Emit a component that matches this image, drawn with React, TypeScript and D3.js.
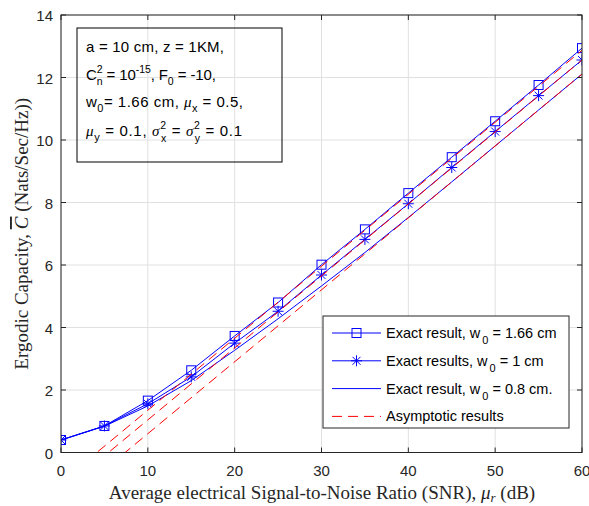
import * as d3 from 'd3';

// SNR grid (dB) and ergodic capacity (nats/s/Hz)
const snr = [0, 5, 10, 15, 20, 25, 30, 35, 40, 45, 50, 55, 60];
const capW166 = [0.40, 0.85, 1.66, 2.63, 3.73, 4.80, 6.01, 7.14, 8.30, 9.45, 10.60, 11.76, 12.94];
const capW1 = [0.40, 0.85, 1.56, 2.42, 3.50, 4.52, 5.68, 6.82, 7.96, 9.12, 10.27, 11.42, 12.56];
const capW08 = [0.40, 0.84, 1.49, 2.30, 3.27, 4.28, 5.33, 6.40, 7.52, 8.66, 9.81, 10.96, 12.11];

// asymptotic straight lines, end points at 0 dB and 60 dB
const asymSnr = [0, 60];
const asymW166 = [-0.95, 12.87];
const asymW1 = [-1.26, 12.56];
const asymW08 = [-1.70, 12.11];

const xTicks = [0, 10, 20, 30, 40, 50, 60];
const yTicks = [0, 2, 4, 6, 8, 10, 12, 14];

const width = 589;
const height = 506;
const margin = { top: 15, right: 7, bottom: 53.5, left: 61 };

const x = d3.scaleLinear().domain([0, 60]).range([margin.left, width - margin.right]);
const y = d3.scaleLinear().domain([0, 14]).range([height - margin.bottom, margin.top]);

const blue = '#0000ff';
const red = '#ff0000';
const axisColor = '#262626';
const sans = '"Liberation Sans", Arial, sans-serif';
const serif = '"Liberation Serif", "Times New Roman", serif';

const toPts = (xs: number[], ys: number[]) => xs.map((v, i) => [v, ys[i]] as [number, number]);

const line = d3.line<[number, number]>()
  .x(d => x(d[0]))
  .y(d => y(d[1]));

function Square({ cx, cy }: { cx: number; cy: number }) {
  const s = 9;
  return <rect x={cx - s / 2} y={cy - s / 2} width={s} height={s} fill="none" stroke={blue} strokeWidth={1} />;
}

function Star({ cx, cy }: { cx: number; cy: number }) {
  const r = 5.5;
  const d = r * 0.72;
  return (
    <g stroke={blue} strokeWidth={1}>
      <line x1={cx - r} y1={cy} x2={cx + r} y2={cy} />
      <line x1={cx} y1={cy - r} x2={cx} y2={cy + r} />
      <line x1={cx - d} y1={cy - d} x2={cx + d} y2={cy + d} />
      <line x1={cx - d} y1={cy + d} x2={cx + d} y2={cy - d} />
    </g>
  );
}

const legendItems = [
  { pre: 'Exact result, w', post: ' = 1.66 cm', color: blue, dash: undefined, marker: 'square' },
  { pre: 'Exact results, w', post: ' = 1 cm', color: blue, dash: undefined, marker: 'star' },
  { pre: 'Exact result, w', post: ' = 0.8 cm.', color: blue, dash: undefined, marker: 'none' },
  { pre: 'Asymptotic results', post: '', color: red, dash: '10 6', marker: 'none' },
];

export default function App() {
  const x0 = x.range()[0];
  const x1 = x.range()[1];
  const y0 = y.range()[0];
  const y1 = y.range()[1];
  const tick = 5;

  const exact = [capW166, capW1, capW08].map(v => toPts(snr, v));
  const asym = [asymW166, asymW1, asymW08].map(v => toPts(asymSnr, v));

  const lgX = 323;
  const lgY = 316;
  const lgW = 246;
  const lgH = 112;

  return (
    <svg width={width} height={height} style={{ position: 'absolute', left: 0, top: 0, background: '#fff' }}>
      <defs>
        <clipPath id="plotArea">
          <rect x={x0} y={y1} width={x1 - x0} height={y0 - y1} />
        </clipPath>
      </defs>
      <rect x={0} y={0} width={width} height={height} fill="#fff" />

      {/* grid */}
      <g stroke="#e0e0e0" strokeWidth={1}>
        {xTicks.map(t => <line key={'gx' + t} x1={x(t)} x2={x(t)} y1={y0} y2={y1} />)}
        {yTicks.map(t => <line key={'gy' + t} x1={x0} x2={x1} y1={y(t)} y2={y(t)} />)}
      </g>

      {/* curves */}
      <g clipPath="url(#plotArea)">
        {exact.map((pts, i) => (
          <path key={'e' + i} d={line(pts) ?? ''} fill="none" stroke={blue} strokeWidth={1} />
        ))}
        {exact[0].map((p, i) => <Square key={'sq' + i} cx={x(p[0])} cy={y(p[1])} />)}
        {exact[1].map((p, i) => <Star key={'st' + i} cx={x(p[0])} cy={y(p[1])} />)}
        {asym.map((pts, i) => (
          <path key={'a' + i} d={line(pts) ?? ''} fill="none" stroke={red} strokeWidth={1} strokeDasharray="10 6" />
        ))}
      </g>

      {/* axes box and ticks */}
      <rect x={x0} y={y1} width={x1 - x0} height={y0 - y1} fill="none" stroke={axisColor} strokeWidth={1} />
      <g stroke={axisColor} strokeWidth={1}>
        {xTicks.map(t => (
          <g key={'tx' + t}>
            <line x1={x(t)} x2={x(t)} y1={y0} y2={y0 - tick} />
            <line x1={x(t)} x2={x(t)} y1={y1} y2={y1 + tick} />
          </g>
        ))}
        {yTicks.map(t => (
          <g key={'ty' + t}>
            <line x1={x0} x2={x0 + tick} y1={y(t)} y2={y(t)} />
            <line x1={x1} x2={x1 - tick} y1={y(t)} y2={y(t)} />
          </g>
        ))}
      </g>
      <g fontFamily={sans} fontSize={15} fill={axisColor}>
        {xTicks.map(t => (
          <text key={'lx' + t} x={x(t)} y={y0 + 23} textAnchor="middle">{t}</text>
        ))}
        {yTicks.map(t => (
          <text key={'ly' + t} x={x0 - 8} y={y(t) + 6} textAnchor="end">{t}</text>
        ))}
      </g>

      {/* axis titles */}
      <text x={322} y={499} textAnchor="middle" fontFamily={serif} fontSize={19} fill={axisColor}>
        Average electrical Signal-to-Noise Ratio (SNR),{' '}
        <tspan fontStyle="italic">μ</tspan>
        <tspan fontStyle="italic" fontSize={13} dy={3}>r</tspan>
        <tspan dy={-3}> (dB)</tspan>
      </text>
      <text
        transform={`translate(28, ${(y0 + y1) / 2}) rotate(-90)`}
        textAnchor="middle"
        fontFamily={serif}
        fontSize={19}
        fill={axisColor}
      >
        Ergodic Capacity,{' '}
        <tspan fontStyle="italic" textDecoration="overline">C</tspan>
        {' '}(Nats/Sec/Hz))
      </text>

      {/* parameter annotation */}
      <rect x={77} y={28} width={205} height={134} fill="none" stroke="#000" strokeWidth={1} />
      <g fontFamily={sans} fontSize={15} fill="#000">
        <text x={86} y={52} textLength={138} lengthAdjust="spacing">a = 10 cm, z = 1KM,</text>
        <text x={86} y={80} textLength={130} lengthAdjust="spacing">
          C
          <tspan fontSize={10.5} dy={-7}>2</tspan>
          <tspan fontSize={10.5} dx={-5.8} dy={12}>n</tspan>
          <tspan dy={-5}> = 10</tspan>
          <tspan fontSize={10.5} dy={-7}>-15</tspan>
          <tspan dy={7}>, F</tspan>
          <tspan fontSize={10.5} dy={5}>0</tspan>
          <tspan dy={-5}> = -10,</tspan>
        </text>
        <text x={86} y={107} textLength={157} lengthAdjust="spacing">
          w
          <tspan fontSize={11} dy={5}>0</tspan>
          <tspan dy={-5}>= 1.66 cm, </tspan>
          <tspan fontFamily={serif} fontStyle="italic">μ</tspan>
          <tspan fontSize={11} dy={5}>x</tspan>
          <tspan dy={-5}> = 0.5,</tspan>
        </text>
        <text x={86} y={136} textLength={156} lengthAdjust="spacing">
          <tspan fontFamily={serif} fontStyle="italic">μ</tspan>
          <tspan fontSize={11} dy={5}>y</tspan>
          <tspan dy={-5}> = 0.1, </tspan>
          <tspan fontFamily={serif} fontStyle="italic">σ</tspan>
          <tspan fontSize={10.5} dy={-7.5}>2</tspan>
          <tspan fontSize={10.5} dx={-5.8} dy={13}>x</tspan>
          <tspan dy={-5.5}> = </tspan>
          <tspan fontFamily={serif} fontStyle="italic">σ</tspan>
          <tspan fontSize={10.5} dy={-7.5}>2</tspan>
          <tspan fontSize={10.5} dx={-5.8} dy={13}>y</tspan>
          <tspan dy={-5.5}> = 0.1</tspan>
        </text>
      </g>

      {/* legend */}
      <rect x={lgX} y={lgY} width={lgW} height={lgH} fill="#fff" stroke={axisColor} strokeWidth={1} />
      {legendItems.map((it, i) => {
        const ly = lgY + 17 + i * 27.8;
        const lx0 = lgX + 9;
        const lx1 = lgX + 58;
        const mx = (lx0 + lx1) / 2;
        return (
          <g key={'lg' + i}>
            <line x1={lx0} x2={lx1} y1={ly} y2={ly} stroke={it.color} strokeWidth={1} strokeDasharray={it.dash} />
            {it.marker === 'square' && <Square cx={mx} cy={ly} />}
            {it.marker === 'star' && <Star cx={mx} cy={ly} />}
            <text x={lgX + 63} y={ly + 5} fontFamily={sans} fontSize={14.5} fill="#000">
              {it.pre}
              {it.post && (
                <>
                  <tspan fontSize={11} dx={2} dy={6}>0</tspan>
                  <tspan dy={-6}>{it.post}</tspan>
                </>
              )}
            </text>
          </g>
        );
      })}
    </svg>
  );
}
